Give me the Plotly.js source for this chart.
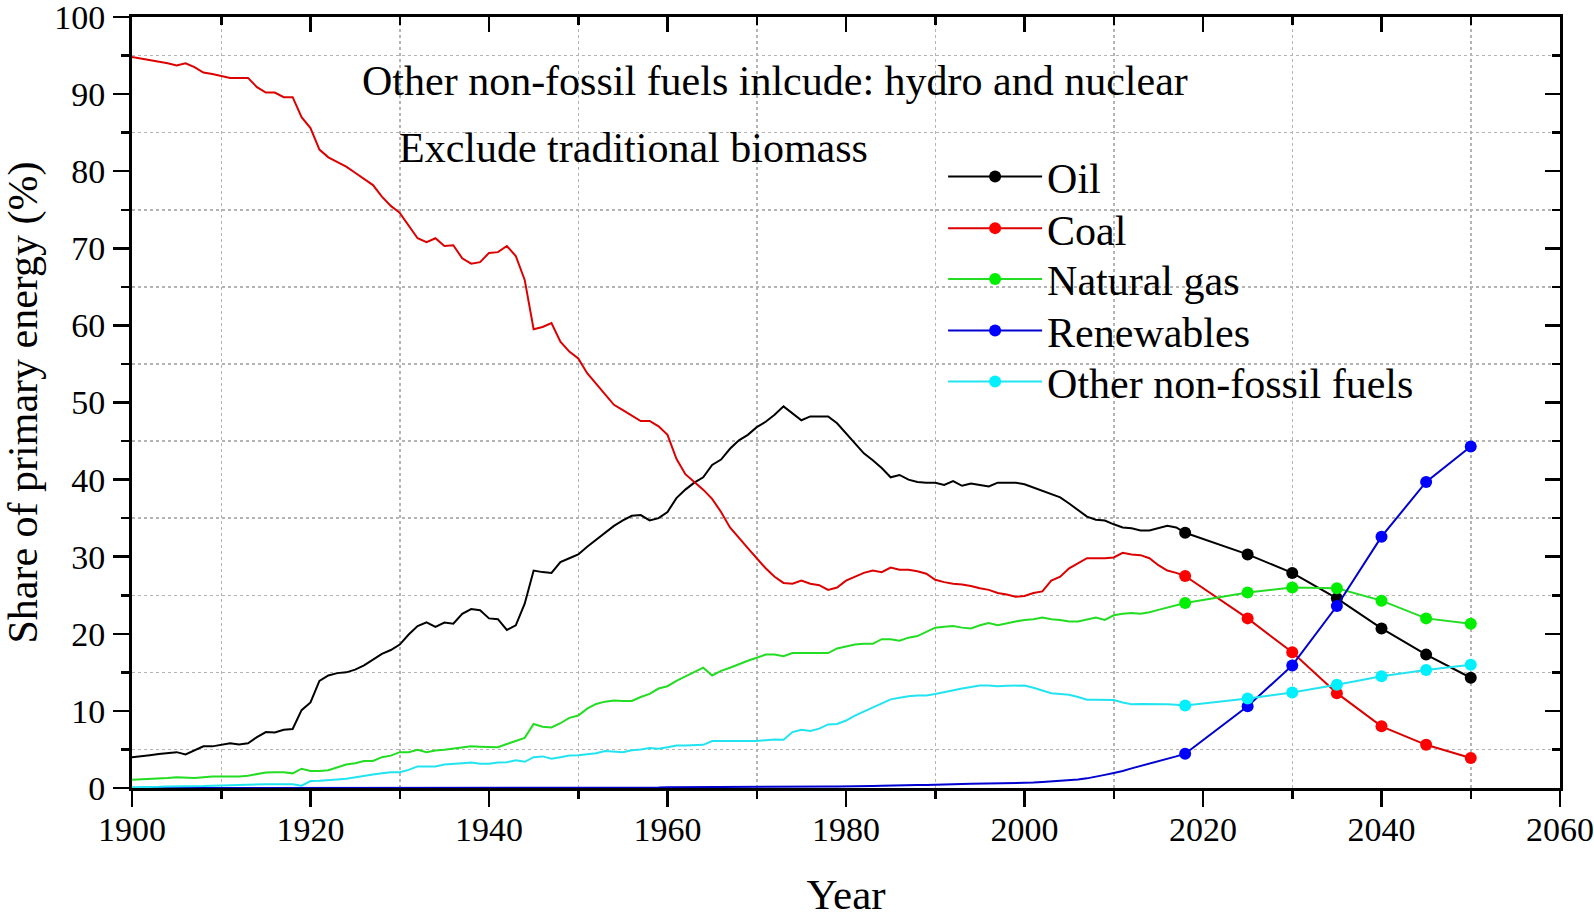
<!DOCTYPE html>
<html><head><meta charset="utf-8">
<script src="https://cdn.plot.ly/plotly-3.0.1.min.js"></script>
<style>html,body{margin:0;padding:0;background:#fff}#chart{width:1594px;height:921px}</style>
</head><body><div id="chart"></div>
<script>
const histYears = [
1900,1901,1902,1903,1904,1905,1906,1907,1908,1909,
1910,1911,1912,1913,1914,1915,1916,1917,1918,1919,
1920,1921,1922,1923,1924,1925,1926,1927,1928,1929,
1930,1931,1932,1933,1934,1935,1936,1937,1938,1939,
1940,1941,1942,1943,1944,1945,1946,1947,1948,1949,
1950,1951,1952,1953,1954,1955,1956,1957,1958,1959,
1960,1961,1962,1963,1964,1965,1966,1967,1968,1969,
1970,1971,1972,1973,1974,1975,1976,1977,1978,1979,
1980,1981,1982,1983,1984,1985,1986,1987,1988,1989,
1990,1991,1992,1993,1994,1995,1996,1997,1998,1999,
2000,2001,2002,2003,2004,2005,2006,2007,2008,2009,
2010,2011,2012,2013,2014,2015,2016,2017,2018];

const oilHist = [
4.0,4.1,4.25,4.4,4.5,4.65,4.35,4.9,5.4,5.4,
5.6,5.8,5.65,5.8,6.6,7.25,7.2,7.55,7.65,10.1,
11.1,13.9,14.6,14.9,15.0,15.35,15.9,16.6,17.4,17.9,
18.6,19.9,21.0,21.5,20.9,21.45,21.3,22.6,23.2,23.05,
22.0,21.9,20.5,21.1,23.9,28.2,28.0,27.9,29.3,29.8,
30.3,31.3,32.2,33.2,34.0,34.7,35.3,35.4,34.7,35.0,
35.8,37.6,38.7,39.6,40.3,41.9,42.6,44.0,45.1,45.8,
46.8,47.5,48.4,49.5,48.6,47.7,48.2,48.2,48.2,47.3,
46.0,44.6,43.4,42.5,41.5,40.3,40.6,40.0,39.7,39.6,
39.6,39.3,39.8,39.2,39.5,39.3,39.1,39.6,39.6,39.6,
39.4,39.0,38.6,38.1,37.7,36.9,36.0,35.2,34.8,34.7,
34.2,33.8,33.7,33.4,33.4,33.7,34.0,33.8,33.1];

const coalHist = [
94.8,94.6,94.4,94.2,94.0,93.7,94.0,93.5,92.8,92.6,
92.4,92.1,92.1,92.1,90.9,90.2,90.2,89.6,89.6,87.0,
85.6,82.8,81.8,81.2,80.6,79.8,79.0,78.2,76.7,75.5,
74.6,73.0,71.3,70.8,71.3,70.3,70.4,68.7,68.0,68.2,
69.4,69.5,70.3,69.0,65.9,59.5,59.8,60.3,57.9,56.6,
55.7,53.8,52.4,51.0,49.7,49.0,48.3,47.6,47.6,46.9,
45.8,42.7,40.7,39.7,38.7,37.5,35.8,33.8,32.4,31.1,
29.8,28.5,27.4,26.6,26.5,26.9,26.5,26.3,25.7,26.0,
26.9,27.4,27.9,28.2,28.0,28.6,28.3,28.3,28.1,27.8,
27.0,26.7,26.5,26.4,26.2,25.9,25.7,25.3,25.1,24.8,
24.9,25.3,25.5,26.9,27.4,28.5,29.2,29.8,29.8,29.8,
29.9,30.5,30.3,30.2,29.8,28.9,28.2,27.9,27.5];

const gasHist = [
1.06,1.1,1.2,1.25,1.3,1.4,1.35,1.3,1.4,1.5,
1.5,1.5,1.5,1.6,1.8,2.0,2.05,2.05,1.9,2.5,
2.2,2.2,2.3,2.7,3.05,3.2,3.5,3.5,4.0,4.2,
4.65,4.65,4.95,4.65,4.85,4.95,5.1,5.3,5.4,5.35,
5.35,5.3,5.7,6.1,6.5,8.3,7.95,7.85,8.4,9.1,
9.4,10.3,10.9,11.2,11.35,11.3,11.3,11.8,12.2,12.9,
13.2,13.9,14.5,15.1,15.6,14.6,15.2,15.6,16.1,16.5,
16.9,17.3,17.3,17.1,17.5,17.5,17.5,17.5,17.5,18.1,
18.4,18.6,18.7,18.7,19.3,19.3,19.1,19.5,19.7,20.2,
20.8,20.9,21.0,20.8,20.7,21.1,21.4,21.1,21.4,21.6,
21.8,21.9,22.1,21.9,21.8,21.6,21.6,21.9,22.1,21.8,
22.4,22.6,22.7,22.6,22.8,23.1,23.4,23.7,24.0];

const renewHist = [
0,0,0,0,0,0,0,0,0,0,
0,0,0,0,0,0,0,0,0,0,
0.02,0.02,0.02,0.02,0.02,0.02,0.02,0.02,0.02,0.02,
0.05,0.05,0.05,0.05,0.05,0.05,0.05,0.05,0.05,0.05,
0.05,0.05,0.05,0.05,0.05,0.05,0.05,0.05,0.05,0.05,
0.05,0.05,0.05,0.05,0.05,0.05,0.05,0.05,0.05,0.05,
0.1,0.1,0.1,0.1,0.1,0.1,0.1,0.1,0.1,0.1,
0.12,0.13,0.14,0.15,0.16,0.17,0.18,0.18,0.19,0.2,
0.2,0.22,0.25,0.27,0.3,0.3,0.32,0.35,0.38,0.4,
0.45,0.47,0.5,0.52,0.55,0.57,0.58,0.6,0.6,0.62,
0.65,0.7,0.78,0.85,0.92,1.0,1.1,1.25,1.45,1.7,
1.95,2.2,2.55,2.85,3.15,3.5,3.8,4.1,4.45];

const otherHist = [
0.1,0.1,0.15,0.15,0.2,0.2,0.2,0.2,0.25,0.3,
0.3,0.35,0.4,0.45,0.5,0.5,0.5,0.5,0.5,0.3,
0.9,0.95,1.0,1.1,1.2,1.4,1.6,1.75,1.9,2.05,
2.05,2.35,2.8,2.8,2.8,3.05,3.1,3.2,3.3,3.15,
3.15,3.3,3.35,3.6,3.4,4.0,4.1,3.8,4.0,4.2,
4.25,4.4,4.5,4.8,4.75,4.65,4.9,5.0,5.2,5.1,
5.3,5.5,5.5,5.55,5.6,6.1,6.1,6.1,6.1,6.1,
6.1,6.2,6.3,6.25,7.25,7.55,7.4,7.7,8.25,8.3,
8.75,9.4,9.9,10.4,10.9,11.5,11.7,11.9,12.0,12.0,
12.2,12.45,12.7,12.9,13.1,13.3,13.3,13.2,13.25,13.3,
13.3,13.0,12.6,12.3,12.2,12.1,11.8,11.45,11.45,11.45,
11.4,11.1,10.85,10.9,10.9,10.9,10.85,10.8,10.7];

const projYears = [2018, 2025, 2030, 2035, 2040, 2045, 2050];
const oilProj   = [33.1, 30.3, 27.9, 24.6, 20.7, 17.3, 14.3];
const coalProj  = [27.5, 22.0, 17.6, 12.3, 8.0, 5.6, 3.9];
const gasProj   = [24.0, 25.35, 26.0, 25.9, 24.3, 22.0, 21.3];
const renewProj = [4.45, 10.6, 15.9, 23.6, 32.6, 39.7, 44.3];
const otherProj = [10.7, 11.6, 12.4, 13.4, 14.5, 15.3, 16.0];

const seriesNames = ['Oil', 'Coal', 'Natural gas', 'Renewables', 'Other non-fossil fuels'];
const noteLines = ['Other non-fossil fuels inlcude: hydro and nuclear', 'Exclude traditional biomass'];
const xTitle = 'Year';
const yTitle = 'Share of primary energy (%)';

const series = [
  {name: seriesNames[0], hist: oilHist,   proj: oilProj,   line: '#000000', marker: '#000000'},
  {name: seriesNames[1], hist: coalHist,  proj: coalProj,  line: '#dd0000', marker: '#ff0000'},
  {name: seriesNames[2], hist: gasHist,   proj: gasProj,   line: '#22dd22', marker: '#00ee00'},
  {name: seriesNames[3], hist: renewHist, proj: renewProj, line: '#0000d0', marker: '#0000ff'},
  {name: seriesNames[4], hist: otherHist, proj: otherProj, line: '#22e4f0', marker: '#00f0ff'}
];

const FONT = 'Liberation Serif, Times New Roman, serif';
const legendIds = ['legend', 'legend2', 'legend3', 'legend4', 'legend5'];
const legendRowsY = [0.7929, 0.7259, 0.6598, 0.5931, 0.5270];

const traces = [];
series.forEach(s => {
  traces.push({x: histYears, y: s.hist, type: 'scatter', mode: 'lines', name: s.name,
    showlegend: false, line: {color: s.line, width: 2}, hoverinfo: 'skip'});
});
series.forEach((s, i) => {
  traces.push({x: projYears, y: s.proj, type: 'scatter', mode: 'lines+markers', name: s.name,
    legend: legendIds[i], showlegend: true, line: {color: s.line, width: 2},
    marker: {color: s.marker, size: 12}, hoverinfo: 'skip'});
});
// carrier for the mirrored top/right frame axes (no visible marks)
traces.push({x: [null], y: [null], xaxis: 'x2', yaxis: 'y2', type: 'scatter', mode: 'lines',
  showlegend: false, hoverinfo: 'skip'});

const gridStyle = {showgrid: true, gridcolor: '#b4b4b4', gridwidth: 1.5, griddash: '3px,3px'};

const layout = {
  width: 1594, height: 921,
  margin: {l: 132, r: 34, t: 17, b: 133},
  paper_bgcolor: '#ffffff', plot_bgcolor: '#ffffff',
  font: {family: FONT, color: '#000'},
  showlegend: true,
  hovermode: false,
  xaxis: {
    range: [1900, 2060], tick0: 1900, dtick: 20, ticks: 'outside', ticklen: 16, tickwidth: 2.5, tickcolor: '#000',
    showline: true, linewidth: 3, linecolor: '#000', zeroline: false, showgrid: false,
    tickfont: {family: FONT, size: 34, color: '#000'}, ticklabelstandoff: -7, ticklabeloverflow: 'allow',
    minor: Object.assign({dtick: 10, ticks: 'outside', ticklen: 8, tickwidth: 2.5, tickcolor: '#000'}, gridStyle),
    title: {text: xTitle, font: {family: FONT, size: 43, color: '#000'}, standoff: 33}
  },
  yaxis: {
    range: [0, 100], tick0: 0, dtick: 10, ticks: 'outside', ticklen: 16, tickwidth: 2.5, tickcolor: '#000',
    showline: true, linewidth: 3, linecolor: '#000', zeroline: false, showgrid: false,
    tickfont: {family: FONT, size: 34, color: '#000'}, ticklabelstandoff: 1, ticklabeloverflow: 'allow',
    minor: Object.assign({dtick: 5, ticks: 'outside', ticklen: 8, tickwidth: 2.5, tickcolor: '#000'}, gridStyle),
    title: {text: yTitle, font: {family: FONT, size: 42, color: '#000'}, standoff: 8}
  },
  xaxis2: {
    overlaying: 'x', side: 'top', anchor: 'y2', range: [1900, 2060], tick0: 1900, dtick: 20,
    ticks: 'inside', ticklen: 15, tickwidth: 2.5, tickcolor: '#000', showticklabels: false,
    showline: true, linewidth: 3, linecolor: '#000', zeroline: false, showgrid: false,
    minor: {dtick: 10, ticks: 'inside', ticklen: 8, tickwidth: 2.5, tickcolor: '#000', showgrid: false}
  },
  yaxis2: {
    overlaying: 'y', side: 'right', anchor: 'x2', range: [0, 100], tick0: 0, dtick: 10,
    ticks: 'inside', ticklen: 15, tickwidth: 2.5, tickcolor: '#000', showticklabels: false,
    showline: true, linewidth: 3, linecolor: '#000', zeroline: false, showgrid: false,
    minor: {dtick: 5, ticks: 'inside', ticklen: 8, tickwidth: 2.5, tickcolor: '#000', showgrid: false}
  },
  annotations: [
    {xref: 'paper', yref: 'paper', x: 0.1597, y: 0.917, xanchor: 'left', yanchor: 'middle',
     text: noteLines[0], showarrow: false, font: {family: FONT, size: 42, color: '#000'}},
    {xref: 'paper', yref: 'paper', x: 0.1859, y: 0.8306, xanchor: 'left', yanchor: 'middle',
     text: noteLines[1], showarrow: false, font: {family: FONT, size: 42, color: '#000'}}
  ]
};
legendIds.forEach((id, i) => {
  layout[id] = {
    x: 0.5680, y: legendRowsY[i], xanchor: 'left', yanchor: 'middle',
    bgcolor: 'rgba(0,0,0,0)', borderwidth: 0,
    font: {family: FONT, size: 42, color: '#000'},
    itemwidth: 94
  };
});

Plotly.newPlot('chart', traces, layout, {displayModeBar: false, staticPlot: true});
</script>
</body></html>
